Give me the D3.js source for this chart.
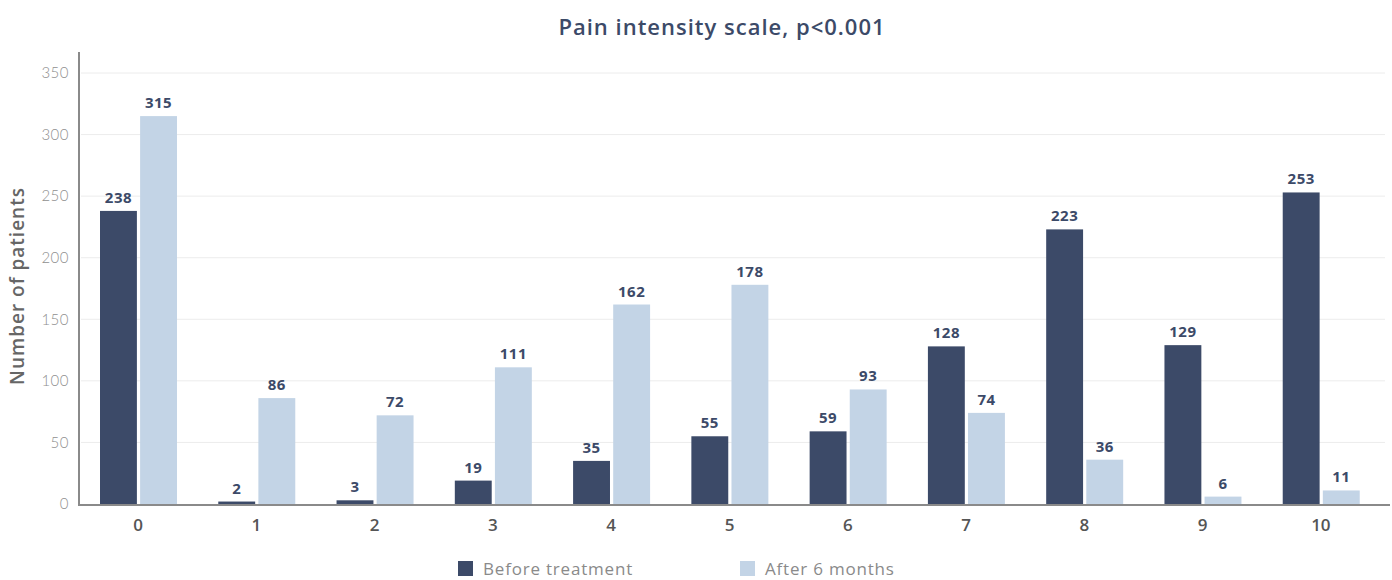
<!DOCTYPE html>
<html>
<head>
<meta charset="utf-8">
<script src="https://cdn.jsdelivr.net/npm/d3@7"></script>
<style>
  html, body { margin: 0; padding: 0; background: #fff; }
  svg { display: block; font-family: "Open Sans", Lato, sans-serif; }
</style>
</head>
<body>
<svg id="chart" width="1392" height="580"></svg>
<script>
// Pain scores 0–10 and number of patients at each score
const categories = ["0", "1", "2", "3", "4", "5", "6", "7", "8", "9", "10"];
const beforeTreatment = [238, 2, 3, 19, 35, 55, 59, 128, 223, 129, 253];
const afterSixMonths = [315, 86, 72, 111, 162, 178, 93, 74, 36, 6, 11];
const seriesNames = ["Before treatment", "After 6 months"];
const yTicks = [0, 50, 100, 150, 200, 250, 300, 350];

const colors = ["#3c4a68", "#c3d4e6"];
const svg = d3.select("#chart");

const x0 = d3.scaleBand().domain(categories).range([79, 1380]).paddingInner(0).paddingOuter(0);
const x1 = d3.scaleBand().domain(seriesNames).range([21, 21 + 77]).paddingInner(0.08);
const y = d3.scaleLinear().domain([0, 350]).range([504, 73]);

// gridlines
svg.append("g")
  .selectAll("line")
  .data(yTicks.filter(t => t > 0))
  .join("line")
  .attr("x1", 81).attr("x2", 1385)
  .attr("y1", d => y(d)).attr("y2", d => y(d))
  .attr("stroke", "#ececec").attr("stroke-width", 1);

// y axis tick labels
svg.append("g")
  .selectAll("text")
  .data(yTicks)
  .join("text")
  .attr("x", 69)
  .attr("y", d => y(d))
  .attr("dy", "0.35em")
  .attr("text-anchor", "end")
  .attr("font-family", "Lato, sans-serif")
  .attr("font-size", 15)
  .attr("font-weight", 300)
  .attr("letter-spacing", 0.5)
  .attr("fill", "#8f8f8f")
  .text(d => d);

const rows = categories.map((c, i) => ({ cat: c, values: [beforeTreatment[i], afterSixMonths[i]] }));

const groups = svg.append("g")
  .selectAll("g")
  .data(rows)
  .join("g")
  .attr("transform", d => `translate(${x0(d.cat)},0)`);

groups.selectAll("rect")
  .data(d => d.values.map((v, k) => ({ v, k })))
  .join("rect")
  .attr("x", d => x1(seriesNames[d.k]))
  .attr("width", x1.bandwidth())
  .attr("y", d => y(d.v))
  .attr("height", d => y(0) - y(d.v))
  .attr("fill", d => colors[d.k]);

groups.selectAll("text.val")
  .data(d => d.values.map((v, k) => ({ v, k })))
  .join("text")
  .attr("class", "val")
  .attr("x", d => x1(seriesNames[d.k]) + x1.bandwidth() / 2)
  .attr("y", d => y(d.v) - 8)
  .attr("text-anchor", "middle")
  .attr("font-size", 15)
  .attr("font-weight", 700)
  .attr("letter-spacing", 0.5)
  .attr("fill", "#3c4a68")
  .text(d => d.v);

// axes lines
svg.append("line")
  .attr("x1", 79).attr("x2", 79).attr("y1", 52).attr("y2", 505)
  .attr("stroke", "#8a8a8a").attr("stroke-width", 2);
svg.append("line")
  .attr("x1", 78).attr("x2", 1390).attr("y1", 505).attr("y2", 505)
  .attr("stroke", "#8a8a8a").attr("stroke-width", 2);

// x tick labels
svg.append("g")
  .selectAll("text")
  .data(categories)
  .join("text")
  .attr("x", d => x0(d) + x0.bandwidth() / 2)
  .attr("y", 531)
  .attr("text-anchor", "middle")
  .attr("font-size", 17)
  .attr("font-weight", 600)
  .attr("fill", "#555")
  .text(d => d);

// y axis title
svg.append("text")
  .attr("transform", "translate(24,286) rotate(-90)")
  .attr("text-anchor", "middle")
  .attr("font-size", 19)
  .attr("font-weight", 600)
  .attr("letter-spacing", 1)
  .attr("fill", "#666")
  .text("Number of patients");

// chart title
svg.append("text")
  .attr("x", 722)
  .attr("y", 35)
  .attr("text-anchor", "middle")
  .attr("font-size", 22)
  .attr("font-weight", 600)
  .attr("letter-spacing", 1)
  .attr("fill", "#3c4a68")
  .text("Pain intensity scale, p<0.001");

// legend
const legendX = [458, 740];
const legend = svg.append("g")
  .selectAll("g")
  .data(seriesNames)
  .join("g")
  .attr("transform", (d, i) => `translate(${legendX[i]},561)`);
legend.append("rect")
  .attr("width", 15).attr("height", 15)
  .attr("fill", (d, i) => colors[i]);
legend.append("text")
  .attr("x", 25).attr("y", 14)
  .attr("font-size", 17)
  .attr("font-weight", 400)
  .attr("letter-spacing", 0.8)
  .attr("fill", "#8a8a8a")
  .text(d => d);
</script>
</body>
</html>
